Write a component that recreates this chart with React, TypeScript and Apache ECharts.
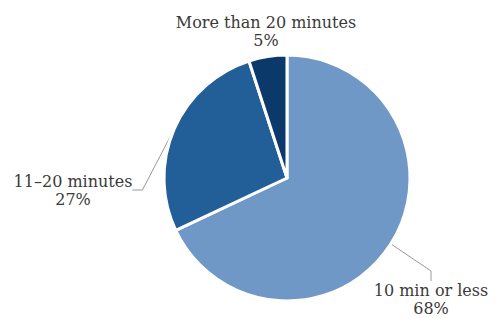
import React, { useEffect, useRef } from "react";
import * as echarts from "echarts";

const categories = ["10 min or less", "11\u201320 minutes", "More than 20 minutes"];
const values = [68, 27, 5];
const colors = ["#7098c6", "#225e97", "#0b3a6a"];

const labelPos = [
  { x: 431, y: 299 },
  { x: 73, y: 190 },
  { x: 266, y: 31 },
];

export default function App() {
  const ref = useRef<HTMLDivElement>(null);
  useEffect(() => {
    if (!ref.current) return;
    const chart = echarts.init(ref.current, null, { renderer: "svg" });
    chart.setOption({
      animation: false,
      backgroundColor: "#ffffff",
      series: [
        {
          type: "pie",
          center: [287, 178],
          radius: [0, 123],
          startAngle: 90,
          clockwise: true,
          data: categories.map((c, i) => ({
            name: c,
            value: values[i],
            itemStyle: { color: colors[i] },
            labelLine: { show: i !== 2 },
          })),
          itemStyle: { borderColor: "#ffffff", borderWidth: 3 },
          label: {
            show: true,
            position: "outside",
            formatter: (p: any) => `${p.name}\n${p.value}%`,
            fontFamily: "DejaVu Serif",
            fontSize: 16,
            lineHeight: 18,
            color: "#3a3a3a",
            align: "center",
            overflow: "none",
          },
          labelLine: {
            show: true,
            length: 20,
            length2: 10,
            lineStyle: { color: "#999999", width: 1 },
          },
          labelLayout: (params: any) => {
            const p = labelPos[params.dataIndex];
            return {
              x: p.x,
              y: p.y,
              align: "center",
              verticalAlign: "middle",
            };
          },
        },
      ],
    });
    return () => chart.dispose();
  }, []);
  return (
    <div
      ref={ref}
      style={{ position: "fixed", left: 0, top: 0, width: 495, height: 318 }}
    />
  );
}
